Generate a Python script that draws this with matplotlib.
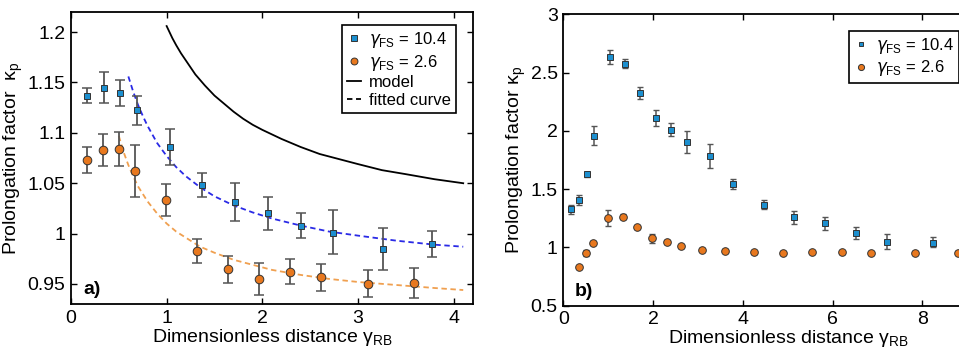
import matplotlib
matplotlib.use("Agg")
import matplotlib.pyplot as plt
from matplotlib.ticker import FuncFormatter

plt.rcParams['font.family'] = ['Liberation Sans', 'DejaVu Sans']
plt.rcParams['mathtext.fontset'] = 'custom'
plt.rcParams['mathtext.rm'] = 'Liberation Sans'
plt.rcParams['mathtext.it'] = 'DejaVu Sans:italic'

# ---------------- Panel a data ----------------
a_blue_x = [0.17, 0.345, 0.515, 0.686, 1.03, 1.37, 1.716, 2.057, 2.40, 2.74, 3.26, 3.77]
a_blue_y = [1.137, 1.145, 1.140, 1.123, 1.086, 1.048, 1.031, 1.020, 1.008, 1.001, 0.985, 0.990]
a_blue_hi = [1.145, 1.160, 1.152, 1.137, 1.104, 1.060, 1.050, 1.036, 1.020, 1.023, 1.006, 1.003]
a_blue_lo = [1.130, 1.130, 1.127, 1.108, 1.068, 1.036, 1.013, 1.004, 0.996, 0.980, 0.964, 0.977]

a_orng_x = [0.17, 0.34, 0.50, 0.665, 0.99, 1.316, 1.643, 1.97, 2.294, 2.617, 3.10, 3.59]
a_orng_y = [1.073, 1.083, 1.084, 1.062, 1.033, 0.983, 0.965, 0.955, 0.962, 0.957, 0.950, 0.951]
a_orng_hi = [1.086, 1.099, 1.101, 1.088, 1.049, 0.995, 0.978, 0.971, 0.975, 0.970, 0.964, 0.966]
a_orng_lo = [1.060, 1.067, 1.067, 1.036, 1.017, 0.971, 0.951, 0.939, 0.950, 0.943, 0.937, 0.936]

model_x = [1.0, 1.03, 1.06, 1.1, 1.15, 1.2, 1.25, 1.3, 1.4, 1.5, 1.6, 1.7, 1.8, 1.9, 2.0, 2.2, 2.4, 2.6, 2.8, 3.0, 3.25, 3.5, 3.8, 4.1]
model_y = [1.206, 1.200, 1.194, 1.187, 1.179, 1.172, 1.165, 1.158, 1.147, 1.137, 1.129, 1.121, 1.114, 1.108, 1.103, 1.094, 1.086, 1.079, 1.074, 1.069, 1.063, 1.059, 1.054, 1.050]

fitb_x = [0.60, 0.65, 0.70, 0.75, 0.8, 0.9, 1.0, 1.1, 1.2, 1.35, 1.5, 1.7, 1.9, 2.1, 2.4, 2.7, 3.0, 3.4, 3.8, 4.1]
fitb_y = [1.156, 1.141, 1.128, 1.117, 1.107, 1.090, 1.077, 1.066, 1.057, 1.046, 1.037, 1.028, 1.021, 1.015, 1.008, 1.002, 0.998, 0.993, 0.989, 0.987]

fito_x = [0.50, 0.55, 0.60, 0.65, 0.70, 0.8, 0.9, 1.0, 1.1, 1.2, 1.35, 1.5, 1.7, 1.9, 2.1, 2.4, 2.7, 3.0, 3.4, 3.8, 4.1]
fito_y = [1.097, 1.081, 1.068, 1.057, 1.047, 1.032, 1.020, 1.010, 1.002, 0.996, 0.987, 0.981, 0.974, 0.969, 0.964, 0.959, 0.955, 0.952, 0.949, 0.946, 0.944]

# ---------------- Panel b data ----------------
b_blue_x = [0.163, 0.35, 0.52, 0.69, 1.033, 1.38, 1.716, 2.058, 2.41, 2.75, 3.26, 3.78, 4.47, 5.15, 5.84, 6.52, 7.21, 8.24]
b_blue_y = [1.327, 1.41, 1.627, 1.959, 2.631, 2.577, 2.322, 2.108, 2.010, 1.904, 1.784, 1.544, 1.367, 1.258, 1.207, 1.126, 1.046, 1.038]
b_blue_hi = [1.367, 1.447, 1.647, 2.039, 2.691, 2.620, 2.380, 2.180, 2.070, 2.000, 1.884, 1.587, 1.407, 1.312, 1.264, 1.178, 1.115, 1.086]
b_blue_lo = [1.287, 1.367, 1.607, 1.879, 2.571, 2.537, 2.270, 2.040, 1.953, 1.813, 1.684, 1.504, 1.327, 1.201, 1.149, 1.069, 0.983, 1.000]

b_orng_x = [0.342, 0.505, 0.67, 0.99, 1.32, 1.65, 1.98, 2.30, 2.62, 3.10, 3.60, 4.25, 4.90, 5.55, 6.20, 6.85, 7.83, 8.80]
b_orng_y = [0.835, 0.949, 1.041, 1.250, 1.264, 1.172, 1.078, 1.046, 1.012, 0.981, 0.972, 0.958, 0.955, 0.961, 0.958, 0.952, 0.955, 0.955]
b_orng_hi = [0.845, 0.975, 1.055, 1.320, 1.285, 1.185, 1.115, 1.060, 1.025, 0.993, 0.985, 0.970, 0.967, 0.973, 0.970, 0.964, 0.967, 0.967]
b_orng_lo = [0.825, 0.925, 1.027, 1.180, 1.243, 1.159, 1.041, 1.032, 0.999, 0.969, 0.959, 0.946, 0.943, 0.949, 0.946, 0.940, 0.943, 0.943]

BLUE = '#1c8fcf'
ORNG = '#e8781e'
ECOL = '#555555'

fig = plt.figure(figsize=(9.59, 3.52), dpi=100)
axa = fig.add_axes([0.074, 0.136, 0.419, 0.830])
axb = fig.add_axes([0.5874, 0.1315, 0.468, 0.8278])


def errs(y, hi, lo):
    return [[v - l for v, l in zip(y, lo)], [h - v for v, h in zip(y, hi)]]


def style(ax):
    ax.tick_params(direction='in', top=True, right=True, length=4, width=1,
                   labelsize=14, pad=4)
    for s in ax.spines.values():
        s.set_linewidth(1.3)


XLAB = 'Dimensionless distance γ$_{\\mathrm{RB}}$'
YLAB = 'Prolongation factor  κ$_{\\mathrm{p}}$'
LEG1 = r'$\gamma_{\mathrm{FS}}$ = 10.4'
LEG2 = r'$\gamma_{\mathrm{FS}}$ = 2.6'

# Panel a
axa.plot(model_x, model_y, color='black', lw=1.3, zorder=2)
axa.plot(fitb_x, fitb_y, color='#2a2ae6', lw=1.3, ls=(0, (3, 2)), zorder=2)
axa.plot(fito_x, fito_y, color='#f0a050', lw=1.3, ls=(0, (3, 2)), zorder=2)
axa.errorbar(a_blue_x, a_blue_y, yerr=errs(a_blue_y, a_blue_hi, a_blue_lo), fmt='none',
             ecolor=ECOL, elinewidth=1.3, capsize=3.5, capthick=1.1, zorder=3)
axa.errorbar(a_orng_x, a_orng_y, yerr=errs(a_orng_y, a_orng_hi, a_orng_lo), fmt='none',
             ecolor=ECOL, elinewidth=1.3, capsize=3.5, capthick=1.1, zorder=3)
h1, = axa.plot(a_blue_x, a_blue_y, 's', ms=4.8, mfc=BLUE, mec='#333333', mew=0.7, ls='none', zorder=4)
h2, = axa.plot(a_orng_x, a_orng_y, 'o', ms=6.2, mfc=ORNG, mec='#333333', mew=0.7, ls='none', zorder=4)
h3, = axa.plot([], [], color='black', lw=1.3)
h4, = axa.plot([], [], color='black', lw=1.3, ls=(0, (3, 2)))
axa.set_xlim(0, 4.2)
axa.set_ylim(0.930, 1.220)
axa.set_xticks([0, 1, 2, 3, 4])
axa.set_yticks([0.95, 1.0, 1.05, 1.1, 1.15, 1.2])
axa.yaxis.set_major_formatter(FuncFormatter(lambda v, p: '%g' % round(v, 3)))
style(axa)
axa.set_xlabel(XLAB, fontsize=14, labelpad=0)
axa.set_ylabel(YLAB, fontsize=14, labelpad=2)
axa.text(0.13, 0.945, 'a)', fontsize=14, fontweight='bold', va='center', ha='left')
lega = axa.legend([h1, h2, h3, h4], [LEG1, LEG2, 'model', 'fitted curve'],
                  loc='upper right', bbox_to_anchor=(0.958, 0.955), borderaxespad=0,
                  fontsize=12, frameon=True, fancybox=False, framealpha=1,
                  handlelength=0.8, handletextpad=0.5, borderpad=0.3, labelspacing=0.15,
                  markerscale=0.8)
lega.get_frame().set_edgecolor('black')
lega.get_frame().set_linewidth(1.2)

# Panel b
axb.errorbar(b_blue_x, b_blue_y, yerr=errs(b_blue_y, b_blue_hi, b_blue_lo), fmt='none',
             ecolor=ECOL, elinewidth=1.1, capsize=2.5, capthick=1.0, zorder=3)
axb.errorbar(b_orng_x, b_orng_y, yerr=errs(b_orng_y, b_orng_hi, b_orng_lo), fmt='none',
             ecolor=ECOL, elinewidth=1.1, capsize=2.5, capthick=1.0, zorder=3)
g1, = axb.plot(b_blue_x, b_blue_y, 's', ms=4.3, mfc=BLUE, mec='#333333', mew=0.7, ls='none', zorder=4)
g2, = axb.plot(b_orng_x, b_orng_y, 'o', ms=5.5, mfc=ORNG, mec='#333333', mew=0.7, ls='none', zorder=4)
axb.set_xlim(0, 10)
axb.set_ylim(0.5, 3.0)
axb.set_xticks([0, 2, 4, 6, 8])
axb.set_yticks([0.5, 1, 1.5, 2, 2.5, 3])
axb.yaxis.set_major_formatter(FuncFormatter(lambda v, p: '%g' % v))
style(axb)
axb.set_xlabel(XLAB, fontsize=14, labelpad=0)
axb.set_ylabel(YLAB.replace('  ', ' '), fontsize=14, labelpad=2)
axb.text(0.25, 0.62, 'b)', fontsize=14, fontweight='bold', va='center', ha='left')
legb = axb.legend([g1, g2], [LEG1, LEG2],
                  loc='upper left', bbox_to_anchor=(0.6366, 0.943), borderaxespad=0,
                  fontsize=12, frameon=True, fancybox=False, framealpha=1,
                  handlelength=0.8, handletextpad=0.5, borderpad=0.3,
                  labelspacing=0.15, markerscale=0.8)
legb.get_frame().set_edgecolor('black')
legb.get_frame().set_linewidth(1.2)

fig.savefig('out.png', dpi=100)
